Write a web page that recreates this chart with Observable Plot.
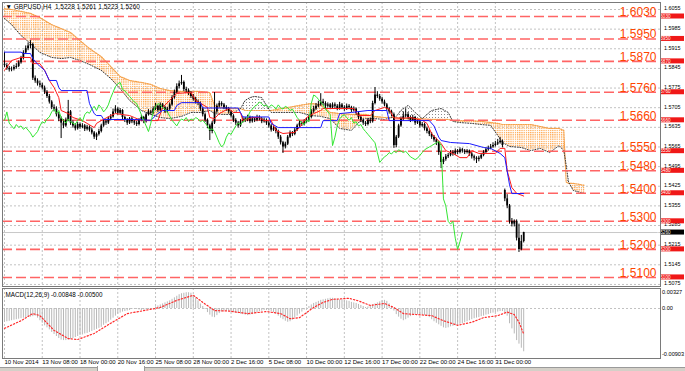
<!DOCTYPE html>
<html><head><meta charset="utf-8">
<script src="https://cdn.jsdelivr.net/npm/d3@7"></script>
<script src="https://cdn.jsdelivr.net/npm/@observablehq/plot@0.6"></script>
<style>
html,body{margin:0;padding:0;background:#fff;}
#wrap{position:relative;width:685px;height:371px;overflow:hidden;font-family:"Liberation Sans",Arial,sans-serif;}
#wrap svg{position:absolute;left:0;}
#tabs{position:absolute;left:0;top:367px;width:685px;height:4px;background:#d4d0c8;border-top:1px solid #9a9a9a;}
#tab{position:absolute;left:97px;top:366px;width:46px;height:5px;background:#fff;border:1px solid #9a9a9a;border-top:none;}
</style></head><body><div id="wrap"></div>
<script>
// Prices are stored in pips above 1.5000 (e.g. 855 = 1.5855)
const title = "▼ GBPUSD,H4  1.5228 1.5261 1.5223 1.5260";
const macdTitle = "MACD(12,26,9) -0.00848 -0.00500";
const xLabelBars = [0,16,32,48,64,80,96,112,128,144,160,176,192,208];
const xLabels = ["10 Nov 2014","13 Nov 08:00","18 Nov 00:00","20 Nov 16:00","25 Nov 08:00","28 Nov 00:00","2 Dec 16:00","5 Dec 08:00","10 Dec 00:00","12 Dec 16:00","17 Dec 00:00","22 Dec 00:00","24 Dec 16:00","31 Dec 00:00"];
const priceTicks = [1055,985,915,845,775,705,635,565,495,425,355,285,215,145,75];
const levels = [1030,950,870,760,660,550,480,400,300,200,100];
const levelLabels = ["1.6030","1.5950","1.5870","1.5760","1.5660","1.5550","1.5480","1.5400","1.5300","1.5200","1.5100"];
const lastPrice = 260;
const macdTicks = [32.7,0,-90.3];
const macdTickLabels = ["0.00327","0.00","-0.00903"];

const open = [860,855,845,840,842,848,852,865,880,900,
915,925,930,810,800,790,785,775,760,745,
725,705,700,680,665,650,640,660,690,650,
640,630,645,635,640,628,635,625,615,600,
610,620,640,655,650,665,672,690,700,685,
695,670,660,650,665,655,650,645,660,670,
655,680,690,685,700,710,695,715,705,690,
700,715,740,760,780,790,795,770,765,755,
745,735,725,720,700,680,660,640,620,650,
690,710,720,715,705,700,690,675,660,650,
640,655,665,660,670,655,665,660,670,665,
655,660,650,640,625,630,620,600,580,565,
575,600,615,610,625,640,650,645,655,660,
670,690,700,710,715,725,720,710,715,705,
715,710,700,715,705,700,710,705,695,700,
685,670,660,650,645,660,655,720,750,745,
735,725,715,700,690,680,570,600,640,665,
675,680,670,660,670,650,655,640,645,630,
620,610,600,590,580,545,510,520,530,535,
545,540,550,545,555,550,545,550,540,530,
525,520,525,535,545,555,560,565,570,575,
580,585,410,380,355,300,290,300,240,200,
228];
const high = [902,862,852,850,856,862,872,888,908,925,
936,944,935,818,808,800,792,782,766,752,
730,715,708,688,672,662,668,731,695,658,
648,652,650,648,645,642,640,632,620,615,
628,646,662,660,672,680,700,712,705,702,
698,675,666,670,670,660,656,666,678,674,
686,698,696,708,720,714,722,720,710,706,
722,748,768,790,800,820,800,778,772,762,
752,742,732,725,706,686,665,646,656,759,
718,728,726,720,712,706,695,680,666,656,
662,672,670,678,675,672,670,678,676,670,
668,665,656,645,638,635,625,606,585,582,
606,622,620,632,646,658,655,662,668,678,
698,710,720,728,755,735,726,722,720,722,
722,716,724,720,712,718,716,710,708,704,
690,676,666,656,666,668,728,777,762,752,
742,732,720,706,696,686,606,646,672,690,
700,688,676,678,674,662,660,652,650,636,
626,616,606,596,585,550,528,538,542,552,
552,558,556,562,560,556,556,554,545,536,
530,532,542,552,562,568,574,580,585,592,
599,590,415,395,360,310,305,305,290,250,
261];
const low = [848,838,832,833,836,842,848,860,875,895,
908,915,802,792,782,776,768,752,738,718,
698,690,672,655,595,630,635,655,642,632,
622,625,628,630,620,622,618,608,592,588,
604,615,635,642,645,658,668,684,678,680,
662,652,642,645,648,642,638,640,655,648,
650,675,678,680,695,688,690,698,684,685,
695,710,735,755,772,785,762,758,748,738,
728,718,712,692,672,652,630,588,612,645,
685,704,708,698,692,682,668,652,642,632,
635,650,652,655,648,650,652,655,658,648,
650,642,632,618,620,612,592,572,542,558,
570,595,602,605,620,635,638,640,650,655,
665,685,695,705,710,712,702,704,698,700,
703,694,696,698,692,695,698,688,690,678,
662,652,642,638,640,648,650,715,738,728,
718,708,692,682,672,560,562,595,635,660,
670,662,652,655,642,645,632,635,622,612,
602,592,582,570,535,488,502,514,524,530,
532,535,538,540,543,538,540,532,522,515,
506,512,520,530,540,550,555,560,565,570,
575,562,370,345,290,280,280,230,189,195,
223];
const close = [855,845,840,842,848,852,865,880,900,915,
925,930,810,800,790,785,775,760,745,725,
705,700,680,665,650,640,660,690,650,640,
630,645,635,640,628,635,625,615,600,610,
620,640,655,650,665,672,690,700,685,695,
670,660,650,665,655,650,645,660,670,655,
680,690,685,700,710,695,715,705,690,700,
715,740,760,780,790,795,770,765,755,745,
735,725,720,700,680,660,640,620,650,690,
710,720,715,705,700,690,675,660,650,640,
655,665,660,670,655,665,660,670,665,655,
660,650,640,625,630,620,600,580,565,575,
600,615,610,625,640,650,645,655,660,670,
690,700,710,715,725,720,710,715,705,715,
710,700,715,705,700,710,705,695,700,685,
670,660,650,645,660,655,720,750,745,735,
725,715,700,690,680,570,600,640,665,675,
680,670,660,670,650,655,640,645,630,620,
610,600,590,580,545,510,520,530,535,545,
540,550,545,555,550,545,550,540,530,525,
520,525,535,545,555,560,565,570,575,580,
585,570,380,355,300,290,300,240,200,228,
260];

// Ichimoku lines (bar index, value)
const tenkanIdx = [0,3,7,11,12,15,17,19,21,23,24,27,29,33,35,38,39,41,45,47,53,55,58,65,67,70,73,79,81,86,87,89,91,95,97,100,101,105,108,110,113,115,118,123,125,128,131,134,135,148,150,155,157,161,163,165,170,172,177,179,181,185,187,190,193,196,198,201,208,210,212,213,215,217,220];
const tenkan = [838,873,884,884,862,862,838,802,777,741,695,684,670,659,649,634,649,659,677,684,677,670,659,659,706,731,756,759,731,706,670,666,684,702,688,688,659,670,670,659,659,624,613,617,634,670,684,695,702,702,677,677,695,706,700,668,668,670,660,649,613,577,552,542,527,527,552,542,542,560,560,480,420,400,390];
const kijunIdx = [0,7,8,11,12,14,17,19,22,23,24,35,36,38,39,41,42,55,62,65,67,72,73,75,83,84,99,100,101,112,113,116,134,135,141,142,147,154,162,163,180,182,184,185,189,197,203,206,210,212,214,215,220];
const kijun = [903,903,898,898,880,860,838,802,802,777,766,766,720,684,677,677,663,663,660,684,695,695,713,723,723,704,704,688,672,672,649,634,634,659,659,684,688,695,695,659,659,640,600,588,581,577,563,560,542,527,430,399,399];
const cloudIdx = [0,3,7,11,15,20,24,28,32,36,41,45,49,53,58,62,66,70,75,79,83,87,89,92,96,100,102,104,106,109,111,113,125,130,134,138,142,147,150,153,157,161,166,168,171,174,177,181,185,188,190,193,198,202,206,209,211,214,219,223,227,231,235,237,238,239,241,244,246];
const senkouB = [1058,1055,1048,1041,1026,1001,987,973,944,916,887,852,816,802,795,788,773,766,763,763,763,759,713,706,702,702,695,695,695,695,695,695,713,720,716,688,684,681,681,681,674,670,670,666,666,666,666,663,663,663,659,659,659,656,652,649,645,645,645,645,638,631,631,624,440,435,435,431,428];
const senkouA = [1023,1001,962,934,902,884,880,884,873,859,838,809,773,731,695,681,670,666,674,688,688,695,684,681,681,702,731,741,745,741,713,688,688,677,674,666,631,624,652,666,666,663,674,695,713,688,666,695,702,688,656,652,649,645,642,606,581,567,563,552,560,545,570,552,500,440,410,403,399];

// MACD (units of 0.0001)
const macdHist = [-27,-26,-25,-24,-23,-22,-21,-20,-19,-18,-17,-17,-16,
-15,
-19,-24,-29,-34,-38,-42,-47,-51,-55,-59,-62,
-63,-63,-62,-61,-59,-57,-55,-53,
-52,-50,-49,-47,-45,-43,-41,-39,-37,
-33,-30,-27,-23,-19,-15,-11,
-9,-7,-6,-5,-4,-2,-1,
-2,-3,-4,-3,-3,-2,-1,0,
3,5,7,9,11,13,15,18,21,
24,27,29,30,31,31,30,
26,21,15,9,4,
-2,-8,-13,-17,-18,
-14,-10,-7,-5,-5,-6,-7,-8,
-9,-10,-11,-12,-13,-14,-13,-12,
-10,-8,-6,-5,-4,-4,-5,-6,-8,-11,-15,
-19,-22,-25,-27,-26,-23,
-19,-15,-11,-7,-3,1,
4,7,10,12,14,16,17,18,19,
20,20,19,18,17,17,16,
15,14,12,11,10,8,6,4,
2,3,5,7,9,11,13,
15,16,14,
9,3,-5,-12,-17,-21,-24,-22,-19,
-16,-14,-12,-12,-13,-13,-14,-15,-18,
-22,-26,-29,-32,-35,-38,-39,-38,-36,
-35,-34,-33,-31,-30,-28,-26,-24,
-22,-20,-19,-18,-16,-15,-13,-12,-10,
-9,-8,-7,-6,-6,
-8,-15,-30,-40,-50,-63,-70,-78,-85];
const sigIdx = [0,7,12,15,21,27,31,38,45,52,58,66,73,80,84,89,95,103,111,117,121,125,131,135,139,146,150,155,161,165,169,175,181,186,192,198,203,209,213,216,218,220];
const sig = [-39,-24,-10,-14,-43,-59,-61,-49,-29,-10,-5,2,16,26,12,-4,-5,-10,-6,-10,-20,-18,2,12,18,20,15,6,10,2,-10,-12,-14,-24,-33,-27,-18,-14,-7,-12,-27,-50];

// ---- tables built from the arrays ----
const P = v => 1.5 + v / 10000;
const bars = close.map((c, i) => ({i, o: open[i], h: high[i], l: low[i], c}));
const chikou = close.slice(26).map((v, j) => ({i: j, v}));
const cloud = cloudIdx.map((i, k) => ({i, a: senkouA[k], b: senkouB[k]}));
const tenkanData = tenkanIdx.map((i, k) => ({i, v: tenkan[k]}));
const kijunData = kijunIdx.map((i, k) => ({i, v: kijun[k]}));
const histData = macdHist.map((v, i) => ({i, v}));
const sigData = sigIdx.map((i, k) => ({i, v: sig[k]}));

const FONT = "'Liberation Sans', Arial, sans-serif";
const xDomain = [-0.847, 277.97];
const grid = {stroke: "#c2c2c2", strokeDasharray: "2,2", strokeWidth: 1};

function levelBoxes(index, scales, values, dims) {
  const g = d3.create("svg:g");
  const x0 = dims.width - dims.marginRight + 1;
  const items = levels.map((v, i) => ({v, t: levelLabels[i], c: "#f01818"}));
  items.push({v: lastPrice, t: P(lastPrice).toFixed(4), c: "#000"});
  for (const it of items) {
    const y = scales.y(it.v);
    g.append("rect").attr("x", x0).attr("y", y - 2.5).attr("width", 23).attr("height", 5).attr("fill", it.c);
    g.append("text").attr("x", x0 + 2.5).attr("y", y + 1.7).attr("fill", "#fff")
      .attr("font-size", 4.6).attr("font-family", FONT).text(it.t);
  }
  return g.node();
}

const main = Plot.plot({
  width: 685, height: 288,
  marginLeft: 2, marginRight: 25, marginTop: 2, marginBottom: 2,
  x: {domain: xDomain, axis: null},
  y: {domain: [67.7, 1079.9], axis: null},
  style: {fontFamily: FONT, fontSize: "6px", background: "transparent", overflow: "visible"},
  marks: [
    Plot.ruleX(xLabelBars, grid),
    Plot.ruleY(priceTicks, grid),
    Plot.areaY(cloud, {x: "i", y1: "a", y2: d => Math.max(d.a, d.b), fill: "url(#dotO)", curve: "linear"}),
    Plot.areaY(cloud, {x: "i", y1: "b", y2: d => Math.max(d.a, d.b), fill: "url(#dotK)", curve: "linear"}),
    Plot.line(cloud, {x: "i", y: "b", stroke: "#f5a24c", strokeWidth: 1.2, strokeDasharray: "1.2,1.2"}),
    Plot.line(cloud, {x: "i", y: "a", stroke: "#3a3a3a", strokeWidth: 1, strokeDasharray: "1,1.6"}),
    Plot.ruleY(levels, {stroke: "#ff6464", strokeWidth: 1.6, strokeDasharray: "10,4"}),
    Plot.ruleY([lastPrice], {stroke: "#c8c8c8", strokeWidth: 1}),
    Plot.ruleX(bars, {x: "i", y1: "l", y2: "h", stroke: "#000", strokeWidth: 1}),
    Plot.ruleX(bars, {x: "i", y1: "o", y2: "c", stroke: "#000", strokeWidth: 1.8}),
    Plot.line(tenkanData, {x: "i", y: "v", stroke: "#ff1a1a", strokeWidth: 1}),
    Plot.line(kijunData, {x: "i", y: "v", stroke: "#1a1aff", strokeWidth: 1}),
    Plot.line(chikou, {x: "i", y: "v", stroke: "#33e633", strokeWidth: 1}),
    Plot.text(levels, {y: d => d, text: (d, i) => levelLabels[i], frameAnchor: "right", textAnchor: "end",
      lineAnchor: "bottom", dx: -4, dy: -0.5, fill: "#ff4500", fontSize: 12}),
    Plot.text(priceTicks, {y: d => d, text: d => P(d).toFixed(4), frameAnchor: "right", textAnchor: "start",
      dx: 3.5, dy: -0.8, fill: "#000", fontSize: 5.4}),
    levelBoxes,
    Plot.text([title], {frameAnchor: "top-left", text: d => d, dx: 3, dy: 4, lineAnchor: "middle",
      textAnchor: "start", fill: "#000", fontSize: 6.5}),
    Plot.frame({stroke: "#7a7a7a"})
  ]
});

const macd = Plot.plot({
  width: 685, height: 85,
  marginLeft: 2, marginRight: 25, marginTop: 2, marginBottom: 13,
  x: {domain: xDomain, axis: null},
  y: {domain: [-98.2, 39.3], axis: null},
  style: {fontFamily: FONT, fontSize: "6px", background: "transparent", overflow: "visible"},
  marks: [
    Plot.ruleX(xLabelBars, grid),
    Plot.ruleY([0], grid),
    Plot.ruleX(histData, {x: "i", y1: 0, y2: "v", stroke: "#b8b8b8", strokeWidth: 1}),
    Plot.line(sigData, {x: "i", y: "v", stroke: "#ff2a2a", strokeWidth: 1.2, strokeDasharray: "1.3,2"}),
    Plot.text(macdTicks, {y: d => d, text: (d, i) => macdTickLabels[i], frameAnchor: "right", textAnchor: "start",
      dx: 1.5, fill: "#000", fontSize: 5.6}),
    Plot.text([macdTitle], {frameAnchor: "top-left", text: d => d, dx: 3, dy: 6, lineAnchor: "middle",
      textAnchor: "start", fill: "#000", fontSize: 6.3}),
    Plot.text(xLabelBars, {x: d => d, text: (d, i) => xLabels[i], frameAnchor: "bottom", textAnchor: "start",
      lineAnchor: "top", dy: 1.5, dx: 0, fill: "#000", fontSize: 6}),
    Plot.frame({stroke: "#7a7a7a"})
  ]
});

// dotted cloud patterns
const defs = d3.select(main).insert("defs", ":first-child");
const pO = defs.append("pattern").attr("id", "dotO").attr("patternUnits", "userSpaceOnUse").attr("width", 2.2).attr("height", 2.2);
pO.append("rect").attr("width", 1.2).attr("height", 1.2).attr("fill", "#ffa040");
const pK = defs.append("pattern").attr("id", "dotK").attr("patternUnits", "userSpaceOnUse").attr("width", 3).attr("height", 3);
pK.append("rect").attr("width", 1).attr("height", 1).attr("fill", "#8a8a8a");

const wrap = document.getElementById("wrap");
main.style.top = "0px";
macd.style.top = "286px";
wrap.appendChild(main);
wrap.appendChild(macd);
const tabs = document.createElement("div"); tabs.id = "tabs"; wrap.appendChild(tabs);
const tab = document.createElement("div"); tab.id = "tab"; wrap.appendChild(tab);
</script>
</body></html>
